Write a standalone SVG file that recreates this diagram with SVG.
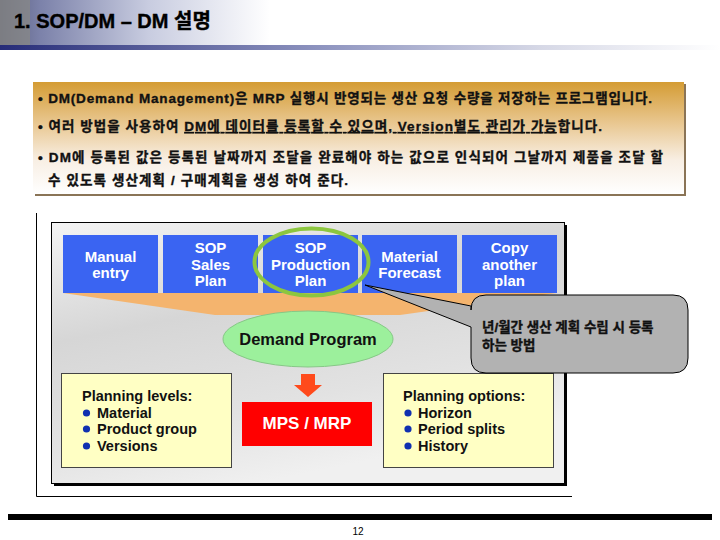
<svg xmlns="http://www.w3.org/2000/svg" width="720" height="540" viewBox="0 0 720 540">
<defs>
<linearGradient id="titleBg" x1="0" y1="0" x2="1" y2="0">
<stop offset="0" stop-color="#5a5e7e"/>
<stop offset="0.15" stop-color="#7c82aa"/>
<stop offset="0.55" stop-color="#c8cce0"/>
<stop offset="1" stop-color="#ffffff"/>
</linearGradient>
<linearGradient id="titleBar" x1="0" y1="0" x2="1" y2="0">
<stop offset="0" stop-color="#262c78"/>
<stop offset="0.45" stop-color="#8f95c0"/>
<stop offset="0.75" stop-color="#d6d8e6"/>
<stop offset="1" stop-color="#ffffff"/>
</linearGradient>
<linearGradient id="boxGrad" x1="0" y1="0" x2="0" y2="1">
<stop offset="0" stop-color="#d49c34"/>
<stop offset="0.35" stop-color="#e8c58c"/>
<stop offset="0.7" stop-color="#f8efe4"/>
<stop offset="1" stop-color="#ffffff"/>
</linearGradient>
<linearGradient id="panelGrad" x1="0" y1="0" x2="0.4" y2="1">
<stop offset="0" stop-color="#f4f4f4"/>
<stop offset="0.4" stop-color="#d6d6d6"/>
<stop offset="0.75" stop-color="#e2e2e2"/>
<stop offset="1" stop-color="#f0f0f0"/>
</linearGradient>
<style>
.body{font-family:"Liberation Sans","Noto Sans CJK KR",sans-serif;font-weight:bold;font-size:13.5px;fill:#111;stroke:#111;stroke-width:0.35px}
.blue{fill:#3a64f2}
.bl{font-family:"Liberation Sans","Noto Sans CJK KR",sans-serif;font-weight:bold;font-size:15px;fill:#ffffff;text-anchor:middle}
.pl{font-family:"Liberation Sans",sans-serif;font-weight:bold;font-size:14.5px;fill:#111}
.dot{fill:#1030b0}
.yel{fill:#ffffc4;stroke:#444;stroke-width:1}
</style>
</defs>

<!-- title -->
<g id="title">
<rect x="0" y="0" width="270" height="46" fill="url(#titleBg)"/>
<rect x="0" y="0" width="30" height="46" fill="#8a8a84" opacity="0.7"/>
<rect x="0" y="45" width="720" height="5" fill="url(#titleBar)"/>
<text x="14" y="28" font-family="'Liberation Sans','Noto Sans CJK KR',sans-serif" font-weight="bold" font-size="20" fill="#000" stroke="#000" stroke-width="0.4">1. SOP/DM – DM 설명</text>
</g>

<!-- description box -->
<g id="description">
<rect x="35" y="84" width="651" height="112" fill="#8a7456"/>
<rect x="33" y="82" width="651" height="112" fill="url(#boxGrad)"/>
<text class="body" x="38" y="103" textLength="614" lengthAdjust="spacing">• DM(Demand Management)은 MRP 실행시 반영되는 생산 요청 수량을 저장하는 프로그램입니다.</text>
<text class="body" x="38" y="131" textLength="564" lengthAdjust="spacing">• 여러 방법을 사용하여 <tspan text-decoration="underline">DM에 데이터를 등록할 수 있으며, Version별도 관리가 가능</tspan>합니다.</text>
<text class="body" x="38" y="162" textLength="625" lengthAdjust="spacing">• DM에 등록된 값은 등록된 날짜까지 조달을 완료해야 하는 값으로 인식되어 그날까지 제품을 조달 할</text>
<text class="body" x="48" y="185" textLength="300" lengthAdjust="spacing">수 있도록 생산계획 / 구매계획을 생성 하여 준다.</text>
</g>

<!-- outer frame -->
<g id="frame" fill="none" stroke="#000" stroke-width="1">
<path d="M36.5,213 V496.5 H572"/>
</g>

<!-- panel -->
<g id="panel">
<rect x="54" y="225" width="513" height="261" fill="#000"/>
<rect x="51.5" y="222.5" width="513" height="261" fill="url(#panelGrad)" stroke="#000" stroke-width="1"/>
<polygon points="63,293 557,293 400,315 215,315" fill="#f4b46e"/>
</g>

<g id="node-manual">
<rect class="blue" x="63" y="235" width="95" height="58"/>
<text class="bl" x="110.5" y="262">Manual</text>
<text class="bl" x="110.5" y="278">entry</text>
</g>
<g id="node-sop-sales">
<rect class="blue" x="163" y="235" width="95" height="58"/>
<text class="bl" x="210.5" y="253">SOP</text>
<text class="bl" x="210.5" y="269.5">Sales</text>
<text class="bl" x="210.5" y="286">Plan</text>
</g>
<g id="node-sop-production">
<rect class="blue" x="263" y="235" width="95" height="58"/>
<text class="bl" x="310.5" y="253">SOP</text>
<text class="bl" x="310.5" y="269.5">Production</text>
<text class="bl" x="310.5" y="286">Plan</text>
</g>
<g id="node-material-forecast">
<rect class="blue" x="362" y="235" width="95" height="58"/>
<text class="bl" x="409.5" y="262">Material</text>
<text class="bl" x="409.5" y="278">Forecast</text>
</g>
<g id="node-copy">
<rect class="blue" x="462" y="235" width="95" height="58"/>
<text class="bl" x="509.5" y="253">Copy</text>
<text class="bl" x="509.5" y="269.5">another</text>
<text class="bl" x="509.5" y="286">plan</text>
</g>

<g id="highlight">
<ellipse cx="311.5" cy="262" rx="57" ry="33.5" fill="none" stroke="#8cc63f" stroke-width="4"/>
</g>

<g id="node-demand">
<ellipse cx="308" cy="339" rx="85" ry="28" fill="#9cf09c" stroke="#86c886" stroke-width="1"/>
<text x="308" y="345" text-anchor="middle" font-family="'Liberation Sans',sans-serif" font-weight="bold" font-size="16.5" fill="#111">Demand Program</text>
</g>

<g id="connectors">
<polygon points="301,374 315,374 315,385 322,385 308,397 294,385 301,385" fill="#ff4a1c"/>
</g>

<g id="node-mps">
<rect x="242" y="402" width="130" height="44" fill="#ff0000"/>
<text x="307" y="429" text-anchor="middle" font-family="'Liberation Sans',sans-serif" font-weight="bold" font-size="17" fill="#ffffff">MPS / MRP</text>
</g>

<g id="node-planning-levels">
<rect class="yel" x="61.5" y="373.5" width="170" height="94"/>
<text class="pl" x="82" y="401">Planning levels:</text>
<circle class="dot" cx="86.5" cy="413" r="3.6"/>
<text class="pl" x="97" y="418">Material</text>
<circle class="dot" cx="86.5" cy="429" r="3.6"/>
<text class="pl" x="97" y="434">Product group</text>
<circle class="dot" cx="86.5" cy="446" r="3.6"/>
<text class="pl" x="97" y="451">Versions</text>
</g>

<g id="node-planning-options">
<rect class="yel" x="383.5" y="373.5" width="170" height="94"/>
<text class="pl" x="403" y="401">Planning options:</text>
<circle class="dot" cx="408" cy="413" r="3.6"/>
<text class="pl" x="418" y="418">Horizon</text>
<circle class="dot" cx="408" cy="429" r="3.6"/>
<text class="pl" x="418" y="434">Period splits</text>
<circle class="dot" cx="408" cy="446" r="3.6"/>
<text class="pl" x="418" y="451">History</text>
</g>

<g id="node-callout">
<path d="M486,295 H673 Q688,295 688,310 V358 Q688,373 673,373 H486 Q471,373 471,358 V327 L365,285 L471,306 V310 Q471,295 486,295 Z" fill="#b2b2b2" stroke="#000" stroke-width="1"/>
<text class="body" x="482" y="332" font-size="13">년/월간 생산 계획 수립 시 등록</text>
<text class="body" x="482" y="350" font-size="13">하는 방법</text>
</g>

<g id="footer">
<rect x="8" y="514" width="704" height="6" fill="#000"/>
<text x="358" y="535" text-anchor="middle" font-family="'Liberation Sans',sans-serif" font-size="10" fill="#000">12</text>
</g>
</svg>
